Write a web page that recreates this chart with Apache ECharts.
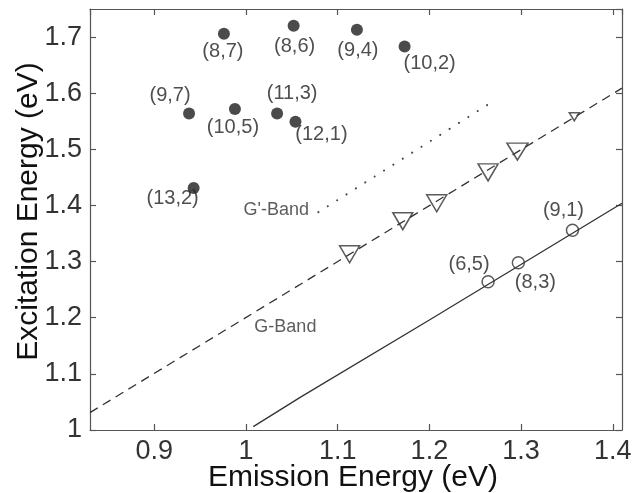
<!DOCTYPE html>
<html>
<head>
<meta charset="utf-8">
<script src="https://cdn.jsdelivr.net/npm/echarts@6/dist/echarts.min.js"></script>
<style>
    html, body {margin: 0; padding: 0; background: #fff;}
    #chart {width: 642px; height: 493px;}
</style>
</head>
<body>
<div id="chart"></div>
<script>
// semiconducting tubes, E11 vs E22 style map
const filledNames = ['(8,7)', '(8,6)', '(9,4)', '(10,2)', '(9,7)', '(10,5)', '(11,3)', '(12,1)', '(13,2)'];
const filledX = [0.976, 1.052, 1.121, 1.173, 0.938, 0.988, 1.034, 1.054, 0.943];
const filledY = [1.706, 1.720, 1.713, 1.683, 1.564, 1.572, 1.564, 1.549, 1.431];

const openNames = ['(6,5)', '(8,3)', '(9,1)'];
const openX = [1.264, 1.297, 1.356];
const openY = [1.264, 1.298, 1.356];

const triX = [1.113, 1.171, 1.208, 1.264, 1.296, 1.358];
const triY = [1.313, 1.372, 1.404, 1.459, 1.496, 1.558];

const solidX = [1.008, 1.060, 1.200, 1.410];
const solidY = [1.006, 1.059, 1.196, 1.404];
const dashX = [0.830, 1.410];
const dashY = [1.031, 1.609];
const dotX = [1.079, 1.265];
const dotY = [1.388, 1.581];

const bandNames = ["G'-Band", 'G-Band'];
const bandX = [1.033, 1.043];
const bandY = [1.392, 1.183];

// label placement (px from marker centre) and marker sizes
const filledOffset = [[-1, 18], [1, 21], [1, 21], [25, 17], [-19, -18], [-2, 19], [15, -20], [26, 13], [-21, 10]];
const openOffset = [[-19, -17], [17, 20], [-9, -20]];
const triSize = [[20, 17], [20, 17], [20, 17], [20, 17], [21, 17], [10, 8]];

const font = '"Liberation Sans", Arial, Helvetica, sans-serif';
const axisColor = '#555';

const pairs = function (xs, ys) {
    return xs.map(function (x, i) {
        return [x, ys[i]];
    });
};

const pointLabel = {
    show: true
    , position: 'inside'
    , formatter: '{b}'
    , fontFamily: font
    , fontSize: 20
    , color: '#222'
};

const frameAxis = {
    axisLine: {show: true, lineStyle: {color: axisColor, width: 1.2}}
    , axisTick: {show: true, inside: true, length: 6, lineStyle: {color: axisColor, width: 1.2}}
    , splitLine: {show: false}
};

const option = {
    animation: false
    , backgroundColor: '#fff'
    , grid: {left: 90, right: 20, top: 9, bottom: 63, containLabel: false, outerBoundsMode: 'none'}
    , xAxis: [
        Object.assign({
            type: 'value'
            , min: 0.83
            , max: 1.41
            , position: 'bottom'
            , name: 'Emission Energy (eV)'
            , nameLocation: 'middle'
            , nameGap: 33
            , nameMoveOverlap: false
            , nameTextStyle: {fontFamily: font, fontSize: 30, color: '#111', padding: [0, 6, 0, 0]}
            , axisLabel: {
                fontFamily: font
                , fontSize: 27
                , color: '#333'
                , margin: 8
                , showMinLabel: false
                , showMaxLabel: false
            }
        }, frameAxis)
        , Object.assign({
            type: 'value'
            , min: 0.83
            , max: 1.41
            , position: 'top'
            , axisLabel: {show: false}
        }, frameAxis)
    ]
    , yAxis: [
        Object.assign({
            type: 'value'
            , min: 1
            , max: 1.75
            , interval: 0.1
            , position: 'left'
            , name: 'Excitation Energy (eV)'
            , nameLocation: 'middle'
            , nameGap: 46
            , nameMoveOverlap: false
            , nameTextStyle: {fontFamily: font, fontSize: 30, color: '#111', padding: [0, 0, 0, 16]}
            , axisLabel: {
                fontFamily: font
                , fontSize: 27
                , color: '#333'
                , margin: 8
                , showMaxLabel: false
            }
        }, frameAxis)
        , Object.assign({
            type: 'value'
            , min: 1
            , max: 1.75
            , interval: 0.1
            , position: 'right'
            , axisLabel: {show: false}
        }, frameAxis)
    ]
    , series: [
        {
            name: 'S-Band'
            , type: 'line'
            , data: pairs(solidX, solidY)
            , showSymbol: false
            , lineStyle: {color: '#333', width: 1.3}
        }
        , {
            name: 'G-Band'
            , type: 'line'
            , data: pairs(dashX, dashY)
            , showSymbol: false
            , lineStyle: {color: '#333', width: 1.3, type: [9, 6]}
        }
        , {
            name: "G'-Band"
            , type: 'line'
            , data: pairs(dotX, dotY)
            , showSymbol: false
            , lineStyle: {color: '#444', width: 2, type: [0.1, 11], cap: 'round'}
        }
        , {
            name: 'filled'
            , type: 'scatter'
            , symbol: 'circle'
            , symbolSize: 12
            , itemStyle: {color: '#1e1e1e'}
            , data: filledNames.map(function (n, i) {
                return {
                    name: n
                    , value: [filledX[i], filledY[i]]
                    , label: Object.assign({}, pointLabel, {offset: filledOffset[i]})
                };
            })
        }
        , {
            name: 'open'
            , type: 'scatter'
            , symbol: 'circle'
            , symbolSize: 12
            , itemStyle: {color: 'rgba(0,0,0,0)', borderColor: '#333', borderWidth: 1.5}
            , data: openNames.map(function (n, i) {
                return {
                    name: n
                    , value: [openX[i], openY[i]]
                    , label: Object.assign({}, pointLabel, {offset: openOffset[i]})
                };
            })
        }
        , {
            name: 'triangles'
            , type: 'scatter'
            , symbol: 'triangle'
            , symbolRotate: 180
            , itemStyle: {color: 'rgba(0,0,0,0)', borderColor: '#333', borderWidth: 1.5}
            , data: triX.map(function (x, i) {
                return {value: [x, triY[i]], symbolSize: triSize[i]};
            })
        }
        , {
            name: 'bands'
            , type: 'scatter'
            , symbol: 'circle'
            , symbolSize: 1
            , silent: true
            , itemStyle: {color: 'rgba(0,0,0,0)'}
            , data: bandNames.map(function (n, i) {
                return {name: n, value: [bandX[i], bandY[i]]};
            })
            , label: Object.assign({}, pointLabel, {fontSize: 18, color: '#333'})
        }
    ]
};

const chart = echarts.init(document.getElementById('chart'));
chart.setOption(option);
</script>
</body>
</html>
